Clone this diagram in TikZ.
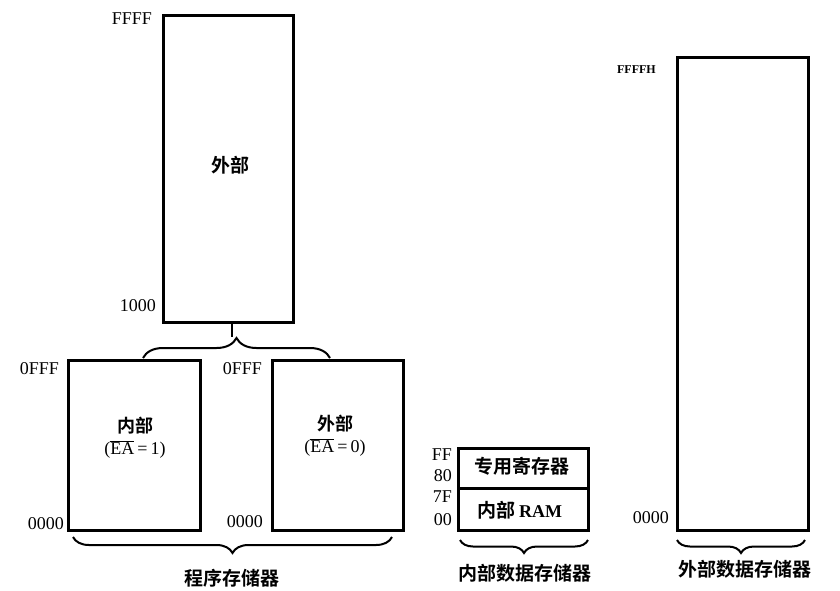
\documentclass[tikz,border=0pt]{standalone}
\usepackage{fontspec}
\setmainfont{Liberation Serif}
\newfontfamily\cjk{Noto Sans CJK SC}[BoldFont={Noto Sans CJK SC Bold}]
\usetikzlibrary{decorations.pathreplacing}
\begin{document}
\begin{tikzpicture}[x=1pt,y=-1pt,
  box/.style={draw, line width=3pt, inner sep=0pt},
  brc/.style={decorate, decoration={brace, amplitude=#1}, line width=2pt},
  hex/.style={font=\fontsize{18}{18}\selectfont, inner sep=0pt, anchor=east},
  smallhex/.style={font=\fontsize{12}{12}\selectfont\bfseries, inner sep=0pt, anchor=east},
  cn/.style={font=\cjk\bfseries\fontsize{19}{19}\selectfont, inner sep=0pt},
  cnin/.style={font=\fontsize{18}{22}\selectfont, inner sep=0pt, align=center},
]
\useasboundingbox (0,0) rectangle (840,590);

% program memory
\node[box, minimum width=130pt, minimum height=307pt] (pext) at (228,168.5) {};
\node[cn] (pextt) at (230,165) {外部};
\node[box, minimum width=132pt, minimum height=170pt] (pint) at (134,445) {};
\node[cnin] (pintt) at (135,438) {{\cjk\bfseries 内部}\\(\(\overline{\mbox{EA}}\)\,=\,1)};
\node[box, minimum width=131pt, minimum height=170pt] (pext0) at (337.5,445) {};
\node[cnin] (pext0t) at (335,436) {{\cjk\bfseries 外部}\\(\(\overline{\mbox{EA}}\)\,=\,0)};

\node[hex] (lFFFF) at (152,19) {FFFF};
\node[hex] (l1000) at (156,306) {1000};
\node[hex] (l0FFFa) at (59,369) {0FFF};
\node[hex] (l0FFFb) at (262,369) {0FFF};
\node[hex] (l0000a) at (64,524) {0000};
\node[hex] (l0000b) at (263,522) {0000};

\coordinate (tbL) at (143,358);
\coordinate (tbR) at (330,358);
\draw[brc=20pt] (tbL) -- (tbR);
\coordinate (tbtip) at (232,337);
\draw[line width=2.6pt] (tbtip) -- (tbtip |- pext.south);

\coordinate (pbR) at (392,537);
\coordinate (pbL) at (73,537);
\draw[brc=16pt] (pbR) -- (pbL);
\node[cn] (plab) at (232,578) {程序存储器};

% internal data memory
\node[box, minimum width=130pt, minimum height=40pt] (sfr) at (523,468) {};
\node[cn] (sfrt) at (522,466) {专用寄存器};
\node[box, minimum width=130pt, minimum height=42pt] (ram) at (523,509) {};
\node[cn] (ramt) at (520,510) {内部\,{\rmfamily\bfseries\fontsize{18}{18}\selectfont RAM}};
\node[hex] (lFF) at (452,455) {FF};
\node[hex] (l80) at (452,476) {80};
\node[hex] (l7F) at (452,497) {7F};
\node[hex] (l00) at (452,520) {00};
\coordinate (ibR) at (588,540);
\coordinate (ibL) at (460,540);
\draw[brc=13pt] (ibR) -- (ibL);
\node[cn] (ilab) at (525,573) {内部数据存储器};

% external data memory
\node[box, minimum width=131pt, minimum height=473pt] (xd) at (742.5,293.5) {};
\node[smallhex] (lFFFFH) at (656,70) {FFFFH};
\node[hex] (l0000c) at (669,518) {0000};
\coordinate (xbR) at (805,540);
\coordinate (xbL) at (677,540);
\draw[brc=13pt] (xbR) -- (xbL);
\node[cn] (xlab) at (745,569) {外部数据存储器};
\end{tikzpicture}
\end{document}
